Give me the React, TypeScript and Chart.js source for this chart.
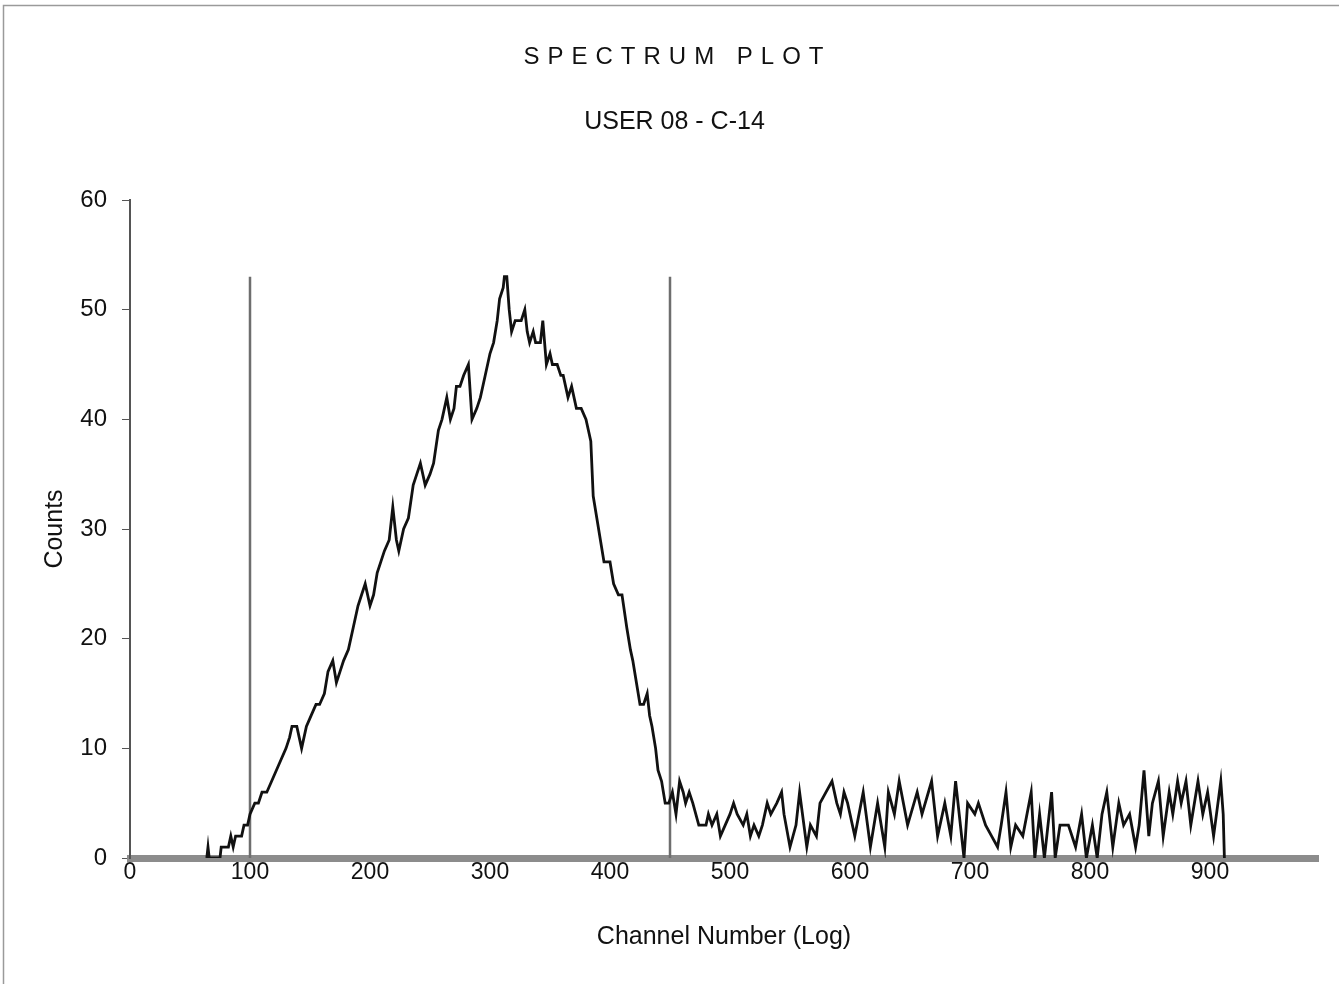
import React, { useEffect, useRef } from 'react';
import { Chart, registerables } from 'chart.js';

Chart.register(...registerables);

const TITLE = 'SPECTRUM PLOT';
const SUBTITLE = 'USER 08 - C-14';
const X_TITLE = 'Channel Number (Log)';
const Y_TITLE = 'Counts';
const X_TICKS = [0, 100, 200, 300, 400, 500, 600, 700, 800, 900];
const Y_TICKS = [0, 10, 20, 30, 40, 50, 60];
const X_MAX = 990;
const Y_MAX = 60;
const WINDOW_CHANNELS = [100, 450];
const WINDOW_HEIGHT = 53;

const CHANNELS = [
  64, 65, 66, 75, 76, 82, 84, 86, 88, 93, 95, 98, 100, 104, 107, 110, 114, 118, 122,
  126, 130, 133, 135, 139, 143, 147, 151, 155, 158, 162, 165, 169, 172, 175, 178, 182, 186, 190, 193,
  196, 200, 203, 206, 209, 212, 216, 219, 222, 224, 228, 232, 236, 239, 242, 246, 250, 253, 257, 260,
  264, 267, 270, 272, 275, 278, 282, 285, 289, 292, 296, 300, 303, 306, 308, 311, 312, 314, 316, 318,
  321, 326, 329, 331, 333, 336, 338, 342, 344, 347, 350, 352, 356, 359, 361, 365, 368, 372, 376, 380,
  382, 384, 386, 389, 392, 395, 400, 403, 407, 410, 414, 417, 419, 422, 425, 428, 431, 433, 435, 438,
  440, 443, 446, 449, 452, 455, 458, 461, 463, 466, 469, 474, 480, 482, 485, 489, 492, 496, 500, 503,
  506, 511, 514, 517, 520, 524, 527, 531, 534, 539, 543, 545, 550, 555, 558, 564, 567, 572, 575, 580,
  585, 589, 592, 595, 598, 604, 611, 617, 623, 629, 632, 637, 641, 648, 656, 660, 668, 673, 679, 684,
  688, 695, 698, 704, 707, 713, 718, 723, 726, 730, 734, 738, 744, 751, 754, 758, 762, 768, 771, 775,
  782, 788, 793, 797, 802, 806, 810, 814, 819, 824, 828, 833, 838, 841, 845, 849, 852, 857, 861, 866,
  869, 873, 876, 880, 884, 890, 894, 898, 903, 909, 911, 912,
];

const COUNTS = [
  0, 1, 0, 0, 1, 1, 2, 1, 2, 2, 3, 3, 4, 5, 5, 6, 6, 7, 8,
  9, 10, 11, 12, 12, 10, 12, 13, 14, 14, 15, 17, 18, 16, 17, 18, 19, 21, 23, 24,
  25, 23, 24, 26, 27, 28, 29, 32, 29, 28, 30, 31, 34, 35, 36, 34, 35, 36, 39, 40,
  42, 40, 41, 43, 43, 44, 45, 40, 41, 42, 44, 46, 47, 49, 51, 52, 53, 53, 50, 48,
  49, 49, 50, 48, 47, 48, 47, 47, 49, 45, 46, 45, 45, 44, 44, 42, 43, 41, 41, 40,
  39, 38, 33, 31, 29, 27, 27, 25, 24, 24, 21, 19, 18, 16, 14, 14, 15, 13, 12, 10,
  8, 7, 5, 5, 6, 4, 7, 6, 5, 6, 5, 3, 3, 4, 3, 4, 2, 3, 4, 5,
  4, 3, 4, 2, 3, 2, 3, 5, 4, 5, 6, 4, 1, 3, 6, 1, 3, 2, 5, 6,
  7, 5, 4, 6, 5, 2, 6, 1, 5, 1, 6, 4, 7, 3, 6, 4, 7, 2, 5, 2,
  7, 0, 5, 4, 5, 3, 2, 1, 3, 6, 1, 3, 2, 6, 0, 4, 0, 6, 0, 3,
  3, 1, 4, 0, 3, 0, 4, 6, 1, 5, 3, 4, 1, 3, 8, 2, 5, 7, 2, 6,
  4, 7, 5, 7, 3, 7, 4, 6, 2, 7, 4, 0,
];

const FONT = '"Liberation Sans", Arial, Helvetica, sans-serif';

const decorPlugin = {
  id: 'decor',
  beforeDraw(chart: any) {
    const ctx = chart.ctx;
    ctx.save();
    ctx.fillStyle = '#ffffff';
    ctx.fillRect(0, 0, chart.width, chart.height);
    ctx.strokeStyle = '#9a9a9a';
    ctx.lineWidth = 1.5;
    ctx.beginPath();
    ctx.moveTo(3.5, chart.height);
    ctx.lineTo(3.5, 5.5);
    ctx.lineTo(chart.width, 5.5);
    ctx.stroke();
    ctx.restore();
  },
  afterDraw(chart: any) {
    const ctx = chart.ctx;
    ctx.save();
    ctx.fillStyle = '#111111';
    ctx.textAlign = 'center';
    ctx.textBaseline = 'middle';
    ctx.font = `24px ${FONT}`;
    (ctx as any).letterSpacing = '8px';
    ctx.fillText(TITLE, chart.width / 2 + 8, 57);
    (ctx as any).letterSpacing = '0px';
    ctx.font = `25px ${FONT}`;
    ctx.fillText(SUBTITLE, chart.width / 2 + 5, 122);
    ctx.restore();
  },
};

export default function App() {
  const canvasRef = useRef<HTMLCanvasElement | null>(null);

  useEffect(() => {
    document.body.style.margin = '0';
    const canvas = canvasRef.current;
    if (!canvas) return;

    const spectrum = CHANNELS.map((c, i) => ({ x: c, y: COUNTS[i] }));
    const windowSets = WINDOW_CHANNELS.map((c) => ({
      data: [
        { x: c, y: 0 },
        { x: c, y: WINDOW_HEIGHT },
      ],
      borderColor: '#6e6e6e',
      borderWidth: 2.5,
      pointRadius: 0,
      order: 1,
    }));

    const chart = new Chart(canvas, {
      type: 'line',
      data: {
        datasets: [
          {
            data: spectrum,
            borderColor: '#111111',
            borderWidth: 2.8,
            pointRadius: 0,
            tension: 0,
            order: 0,
          },
          ...windowSets,
        ],
      },
      options: {
        responsive: false,
        animation: false,
        events: [],
        layout: { padding: { top: 200, right: 21, left: 0, bottom: 0 } },
        plugins: {
          legend: { display: false },
          tooltip: { enabled: false },
          title: { display: false },
        },
        scales: {
          x: {
            type: 'linear',
            min: 0,
            max: X_MAX,
            afterBuildTicks: (scale: any) => {
              scale.ticks = X_TICKS.map((v) => ({ value: v }));
            },
            afterFit: (scale: any) => {
              scale.height = 126;
            },
            grid: { drawOnChartArea: false, drawTicks: false },
            border: { display: true, color: '#8c8c8c', width: 7 },
            ticks: {
              padding: 1,
              color: '#111111',
              font: { family: FONT, size: 23 },
              maxRotation: 0,
            },
            title: {
              display: true,
              text: X_TITLE,
              color: '#111111',
              font: { family: FONT, size: 25 },
              padding: { top: 0, bottom: 32 },
            },
          },
          y: {
            type: 'linear',
            min: 0,
            max: Y_MAX,
            afterBuildTicks: (scale: any) => {
              scale.ticks = Y_TICKS.map((v) => ({ value: v }));
            },
            afterFit: (scale: any) => {
              scale.width = 130;
            },
            grid: {
              drawOnChartArea: false,
              drawTicks: true,
              tickLength: 8,
              color: '#555555',
              lineWidth: 1,
            },
            border: { display: true, color: '#555555', width: 2 },
            ticks: {
              padding: 15,
              color: '#111111',
              font: { family: FONT, size: 24 },
            },
            title: {
              display: true,
              text: Y_TITLE,
              color: '#111111',
              font: { family: FONT, size: 25 },
              padding: { top: 40, bottom: 0 },
            },
          },
        },
      },
      plugins: [decorPlugin],
    } as any);

    return () => {
      chart.destroy();
    };
  }, []);

  return (
    <div style={{ width: 1339, height: 984 }}>
      <canvas ref={canvasRef} width={1339} height={984} style={{ display: 'block' }} />
    </div>
  );
}
